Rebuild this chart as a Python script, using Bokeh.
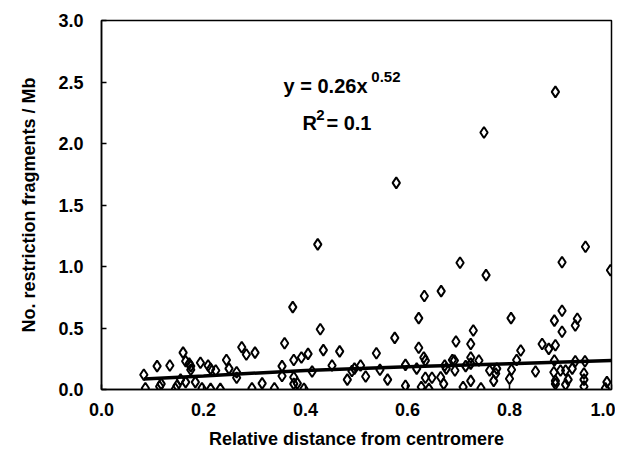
from bokeh.plotting import figure
from bokeh.models import Range1d, Label, FixedTicker
from bokeh.embed import file_html
from bokeh.resources import INLINE

# Data
dist = [0.890, 0.750, 0.578, 0.424, 0.949, 0.903, 0.703, 0.754, 0.998, 0.666, 0.633,
        0.375, 0.359, 0.275, 0.284, 0.301, 0.160, 0.377, 0.354, 0.377, 0.109, 0.134, 0.083,
        0.165, 0.172, 0.175, 0.175, 0.194, 0.209, 0.214, 0.224, 0.245, 0.250, 0.265, 0.265,
        0.086, 0.117, 0.114, 0.145, 0.148, 0.155, 0.165, 0.184, 0.197, 0.214, 0.233, 0.295,
        0.315, 0.339, 0.354, 0.377,
        0.622, 0.429, 0.575, 0.695, 0.622, 0.435, 0.467, 0.539, 0.405, 0.392, 0.632, 0.635,
        0.688, 0.452, 0.508, 0.496, 0.491, 0.546, 0.596, 0.618, 0.413, 0.673, 0.676, 0.693,
        0.482, 0.518, 0.561, 0.384, 0.397, 0.596, 0.627, 0.642, 0.635, 0.648, 0.665, 0.671,
        0.803, 0.903, 0.888, 0.933, 0.929, 0.903, 0.729, 0.724, 0.864, 0.877, 0.890, 0.822,
        0.814, 0.724, 0.740, 0.724, 0.692, 0.714, 0.888, 0.929, 0.948, 0.761, 0.775, 0.773,
        0.804, 0.800, 0.851, 0.887, 0.900, 0.910, 0.923, 0.946, 0.946, 0.946, 0.915, 0.910,
        0.890, 0.890, 0.769, 0.724, 0.709, 0.744, 0.991, 0.988]
frags = [2.42, 2.09, 1.68, 1.18, 1.16, 1.035, 1.03, 0.93, 0.97, 0.80, 0.76,
         0.67, 0.376, 0.344, 0.285, 0.30, 0.30, 0.24, 0.19, 0.10, 0.19, 0.195, 0.12,
         0.23, 0.21, 0.19, 0.16, 0.217, 0.195, 0.168, 0.155, 0.24, 0.17, 0.14, 0.095,
         0.01, 0.046, 0.024, 0.006, 0.03, 0.08, 0.06, 0.06, 0.01, 0.005, 0.005, 0.01,
         0.05, 0.01, 0.11, 0.046,
         0.58, 0.49, 0.42, 0.39, 0.34, 0.32, 0.31, 0.295, 0.29, 0.26, 0.26, 0.235,
         0.24, 0.195, 0.195, 0.17, 0.15, 0.16, 0.20, 0.17, 0.146, 0.195, 0.17, 0.155,
         0.08, 0.106, 0.08, 0.05, 0.006, 0.03, 0.02, 0.005, 0.095, 0.095, 0.10, 0.046,
         0.58, 0.64, 0.56, 0.575, 0.52, 0.47, 0.48, 0.37, 0.37, 0.33, 0.36, 0.317,
         0.24, 0.26, 0.236, 0.21, 0.236, 0.19, 0.236, 0.23, 0.23, 0.155, 0.17, 0.13,
         0.16, 0.087, 0.146, 0.14, 0.155, 0.155, 0.17, 0.13, 0.08, 0.024, 0.08, 0.04,
         0.07, 0.046, 0.07, 0.07, 0.02, 0.01, 0.06, 0.01]

trend_x = [0.083, 0.2, 0.4, 0.6, 0.8, 1.0]
trend_y = [0.085, 0.11, 0.155, 0.185, 0.21, 0.235]

x_ticks = [0.0, 0.2, 0.4, 0.6, 0.8, 1.0]
y_ticks = [0.0, 0.5, 1.0, 1.5, 2.0, 2.5, 3.0]

FONT = "Liberation Sans"

p = figure(width=615, height=452, output_backend="svg", toolbar_location=None,
           x_range=Range1d(0, 1.0), y_range=Range1d(0, 3.0))
p.min_border_left = 101
p.min_border_right = 4
p.min_border_top = 20
p.min_border_bottom = 63
p.background_fill_color = "white"
p.border_fill_color = "white"
p.grid.visible = False
p.outline_line_color = "black"
p.outline_line_width = 1.5

for ax in (p.xaxis[0], p.yaxis[0]):
    ax.axis_line_width = 1.5
    ax.major_tick_in = 5
    ax.major_tick_out = 0
    ax.minor_tick_line_color = None
    ax.major_tick_line_width = 1.5
    ax.major_label_text_font = FONT
    ax.major_label_text_font_style = "bold"
    ax.major_label_text_font_size = "18px"
    ax.major_label_text_color = "black"
    ax.axis_label_text_font = FONT
    ax.axis_label_text_font_style = "bold"
    ax.axis_label_text_font_size = "18px"
    ax.axis_label_text_color = "black"

p.xaxis.ticker = FixedTicker(ticks=x_ticks)
p.yaxis.ticker = FixedTicker(ticks=y_ticks)
p.xaxis.major_label_overrides = {t: f"{t:.1f}" for t in x_ticks}
p.yaxis.major_label_overrides = {t: f"{t:.1f}" for t in y_ticks}
p.xaxis.major_label_standoff = 13
p.yaxis.major_label_standoff = 18
p.xaxis.axis_label = "Relative distance from centromere"
p.yaxis.axis_label = "No. restriction fragments / Mb"
p.xaxis.axis_label_standoff = 10
p.yaxis.axis_label_standoff = 16

p.line(trend_x, trend_y, line_color="black", line_width=3.5)
p.scatter(dist, frags, marker="diamond", size=11, line_color="black",
          line_width=2, fill_alpha=0)

common = dict(text_font=FONT, text_font_style="bold", text_color="black")
p.add_layout(Label(x=0.357, y=2.38, text="y = 0.26x", text_font_size="20px", **common))
p.add_layout(Label(x=0.529, y=2.50, text="0.52", text_font_size="15px", **common))
p.add_layout(Label(x=0.394, y=2.08, text="R", text_font_size="20px", **common))
p.add_layout(Label(x=0.421, y=2.19, text="2", text_font_size="15px", **common))
p.add_layout(Label(x=0.441, y=2.08, text="= 0.1", text_font_size="20px", **common))

open("out.html", "w").write(file_html(p, INLINE))
